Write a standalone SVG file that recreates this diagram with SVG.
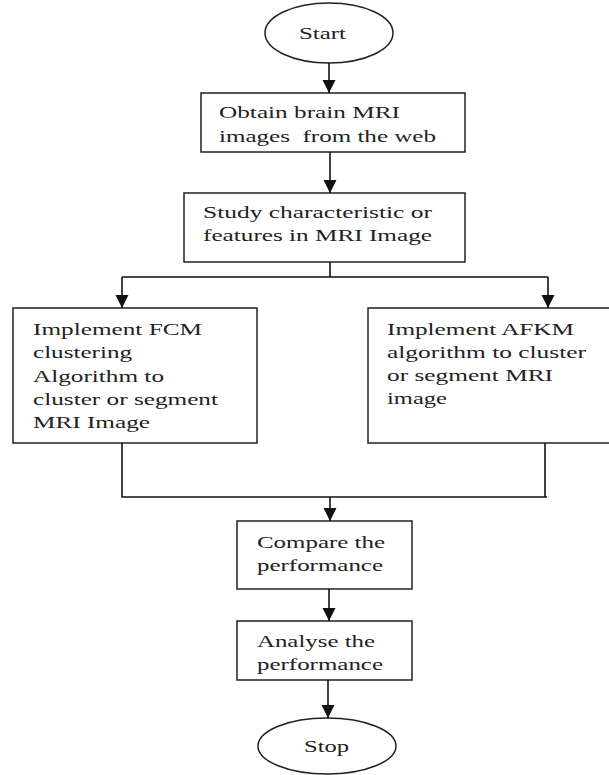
<svg xmlns="http://www.w3.org/2000/svg" width="609" height="775" viewBox="0 0 609 775">
<style>
.box{fill:#fff;stroke:#222;stroke-width:1.5}
.t{font-family:"Liberation Serif","Times New Roman",serif;font-size:17px;fill:#222;white-space:pre}
.c{fill:none;stroke:#111;stroke-width:1.6}
</style>
<defs>
<marker id="ah" markerUnits="userSpaceOnUse" markerWidth="14" markerHeight="14" viewBox="0 0 14 14" refX="13" refY="7" orient="auto">
<path d="M0,0.5 L13,7 L0,13.5 Z" fill="#111"/>
</marker>
</defs>
<rect width="609" height="775" fill="#fff"/>
<g id="start">
<ellipse cx="329" cy="33" rx="64" ry="30" class="box"/>
<text class="t" x="299" y="39" textLength="47" lengthAdjust="spacingAndGlyphs">Start</text>
</g>
<g id="obtain">
<rect x="201" y="93" width="264" height="59" class="box"/>
<text class="t" x="219" y="118" textLength="181" lengthAdjust="spacingAndGlyphs">Obtain brain MRI</text>
<text class="t" x="219" y="142" textLength="217" lengthAdjust="spacingAndGlyphs">images  from the web</text>
</g>
<g id="study">
<rect x="184" y="193" width="281" height="69" class="box"/>
<text class="t" x="203" y="218" textLength="229" lengthAdjust="spacingAndGlyphs">Study characteristic or</text>
<text class="t" x="203" y="241" textLength="229" lengthAdjust="spacingAndGlyphs">features in MRI Image</text>
</g>
<g id="fcm">
<rect x="13" y="308" width="244" height="135" class="box"/>
<text class="t" x="33" y="335" textLength="169" lengthAdjust="spacingAndGlyphs">Implement FCM</text>
<text class="t" x="33" y="358" textLength="99" lengthAdjust="spacingAndGlyphs">clustering</text>
<text class="t" x="33" y="382" textLength="131" lengthAdjust="spacingAndGlyphs">Algorithm to</text>
<text class="t" x="33" y="405" textLength="185" lengthAdjust="spacingAndGlyphs">cluster or segment</text>
<text class="t" x="33" y="428" textLength="117" lengthAdjust="spacingAndGlyphs">MRI Image</text>
</g>
<g id="afkm">
<rect x="368" y="308" width="250" height="135" class="box"/>
<text class="t" x="387" y="335" textLength="187" lengthAdjust="spacingAndGlyphs">Implement AFKM</text>
<text class="t" x="387" y="358" textLength="199" lengthAdjust="spacingAndGlyphs">algorithm to cluster</text>
<text class="t" x="387" y="381" textLength="166" lengthAdjust="spacingAndGlyphs">or segment MRI</text>
<text class="t" x="387" y="404" textLength="60" lengthAdjust="spacingAndGlyphs">image</text>
</g>
<g id="compare">
<rect x="237" y="521" width="175" height="68" class="box"/>
<text class="t" x="257" y="548" textLength="128" lengthAdjust="spacingAndGlyphs">Compare the</text>
<text class="t" x="257" y="571" textLength="126" lengthAdjust="spacingAndGlyphs">performance</text>
</g>
<g id="analyse">
<rect x="237" y="621" width="175" height="59" class="box"/>
<text class="t" x="257" y="647" textLength="118" lengthAdjust="spacingAndGlyphs">Analyse the</text>
<text class="t" x="257" y="670" textLength="126" lengthAdjust="spacingAndGlyphs">performance</text>
</g>
<g id="stop">
<ellipse cx="327" cy="746" rx="69" ry="28" class="box"/>
<text class="t" x="304" y="752" textLength="45" lengthAdjust="spacingAndGlyphs">Stop</text>
</g>
<g id="connectors">
<path class="c" d="M329,63 V93" marker-end="url(#ah)"/>
<path class="c" d="M330,152 V193" marker-end="url(#ah)"/>
<path class="c" d="M330,262 V277 M122,277 H548"/>
<path class="c" d="M122,277 V308" marker-end="url(#ah)"/>
<path class="c" d="M548,277 V308" marker-end="url(#ah)"/>
<path class="c" d="M122,443 V497 H547 M545,443 V497"/>
<path class="c" d="M330,497 V521" marker-end="url(#ah)"/>
<path class="c" d="M329,589 V621" marker-end="url(#ah)"/>
<path class="c" d="M328,680 V718" marker-end="url(#ah)"/>
</g>
</svg>
